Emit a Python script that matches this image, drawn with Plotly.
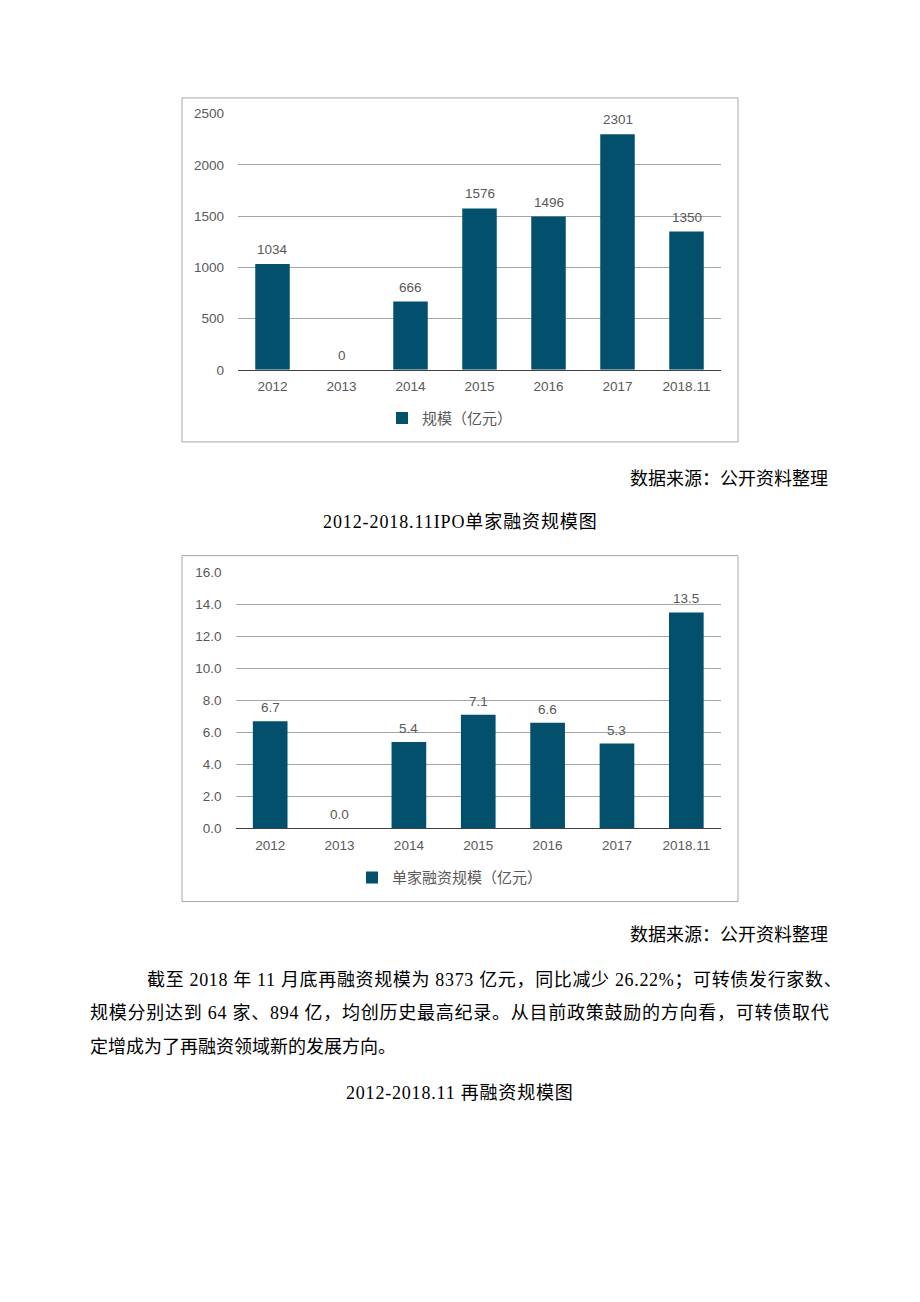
import plotly.graph_objects as go

W, H = 920, 1302

categories = ["2012", "2013", "2014", "2015", "2016", "2017", "2018.11"]
ipo_scale = [1034, 0, 666, 1576, 1496, 2301, 1350]
single_scale = [6.7, 0.0, 5.4, 7.1, 6.6, 5.3, 13.5]
ipo_ticks = [0, 500, 1000, 1500, 2000, 2500]
single_ticks = [0, 2, 4, 6, 8, 10, 12, 14, 16]

series1_name = "规模（亿元）"
series2_name = "单家融资规模（亿元）"
source_text = "数据来源：公开资料整理"
caption1 = "2012-2018.11IPO单家融资规模图"
caption2 = "2012-2018.11 再融资规模图"
para_lines = [
    "截至 2018 年 11 月底再融资规模为 8373 亿元，同比减少 26.22%；可转债发行家数、",
    "规模分别达到 64 家、894 亿，均创历史最高纪录。从目前政策鼓励的方向看，可转债取代",
    "定增成为了再融资领域新的发展方向。",
]

BAR = "#02506B"
TXT = "#595959"
GRID = "#A6A6A6"
CH_FONT = "Liberation Sans, Arial, Noto Sans CJK SC, sans-serif"
DOC_FONT = "Liberation Serif, Noto Sans CJK SC, serif"
TICK = 13.5


def px(x):
    return x / W


def py(y):
    return 1 - y / H


def spaced(s, ls):
    return f'<span style="letter-spacing:{ls}px">{s}</span>'


fig = go.Figure()

fig.add_trace(go.Bar(
    x=categories, y=ipo_scale, name=series1_name,
    marker=dict(color=BAR, line=dict(width=0)),
    xaxis="x", yaxis="y", legend="legend",
))
fig.add_trace(go.Bar(
    x=categories, y=single_scale, name=series2_name,
    marker=dict(color=BAR, line=dict(width=0)),
    xaxis="x2", yaxis="y2", legend="legend2",
))

axis_common_x = dict(type="category", categoryorder="array", categoryarray=categories,
                     range=[-0.5, len(categories) - 0.5],
                     showgrid=False, showline=True, linecolor="#404040",
                     linewidth=1, ticks="", ticklabelstandoff=4,
                     tickfont=dict(color=TXT, size=TICK, family=CH_FONT), fixedrange=True)
axis_common_y = dict(showgrid=True, gridcolor=GRID, gridwidth=1, zeroline=False, showline=False,
                     ticks="", ticklabelstandoff=13,
                     tickfont=dict(color=TXT, size=TICK, family=CH_FONT), fixedrange=True)

fig.update_layout(
    width=W, height=H, margin=dict(l=0, r=0, t=0, b=0),
    paper_bgcolor="white", plot_bgcolor="white",
    bargap=0.5, showlegend=True,
    xaxis=dict(domain=[px(238), px(721)], anchor="y", **axis_common_x),
    yaxis=dict(domain=[py(367), py(108)], anchor="x", range=[0, 2500], tickvals=ipo_ticks, **axis_common_y),
    xaxis2=dict(domain=[px(235.5), px(721)], anchor="y2", **axis_common_x),
    yaxis2=dict(domain=[py(831), py(572)], anchor="x2", range=[0, 16], tickvals=single_ticks,
                tickformat=".1f", **axis_common_y),
    legend=dict(x=px(382), y=py(416), xanchor="left", yanchor="middle", orientation="h",
                font=dict(color=TXT, size=15, family=CH_FONT), bgcolor="rgba(0,0,0,0)"),
    legend2=dict(x=px(352), y=py(881), xanchor="left", yanchor="middle", orientation="h",
                 font=dict(color=TXT, size=15, family=CH_FONT), bgcolor="rgba(0,0,0,0)"),
    shapes=[
        dict(type="rect", xref="paper", yref="paper", x0=px(182), x1=px(738), y0=py(440), y1=py(92),
             line=dict(color="#A6A6A6", width=1)),
        dict(type="rect", xref="paper", yref="paper", x0=px(182), x1=px(738), y0=py(905), y1=py(555),
             line=dict(color="#A6A6A6", width=1)),
    ],
)

annos = []
# data labels above bars; on a category axis annotations use the category index
label_font = dict(color=TXT, size=TICK, family=CH_FONT)
for i, v in enumerate(ipo_scale):
    annos.append(dict(text=str(v), x=i, y=v, xref="x", yref="y", yanchor="bottom", yshift=5,
                      showarrow=False, font=label_font))
for i, v in enumerate(single_scale):
    annos.append(dict(text=f"{v:.1f}", x=i, y=v, xref="x2", yref="y2", yanchor="bottom", yshift=4,
                      showarrow=False, font=label_font))

doc = []
doc_font = dict(family=DOC_FONT, size=18, color="black")
doc.append(dict(text=source_text, x=px(830), y=py(477), xanchor="right", yanchor="middle"))
doc.append(dict(text=spaced(caption1, 0.9), x=px(460), y=py(521), xanchor="center", yanchor="middle"))
doc.append(dict(text=source_text, x=px(830), y=py(939), xanchor="right", yanchor="middle"))
doc.append(dict(text=spaced(para_lines[0], 0.66), x=px(145), y=py(984), xanchor="left", yanchor="middle"))
doc.append(dict(text=spaced(para_lines[1], 0.75), x=px(88), y=py(1018), xanchor="left", yanchor="middle"))
doc.append(dict(text=para_lines[2], x=px(88), y=py(1052), xanchor="left", yanchor="middle"))
doc.append(dict(text=spaced(caption2, 0.8), x=px(460), y=py(1099), xanchor="center", yanchor="middle"))
for a in doc:
    a.update(xref="paper", yref="paper", showarrow=False, font=doc_font)
fig.update_layout(annotations=annos + doc)

fig.write_html("out.html")
